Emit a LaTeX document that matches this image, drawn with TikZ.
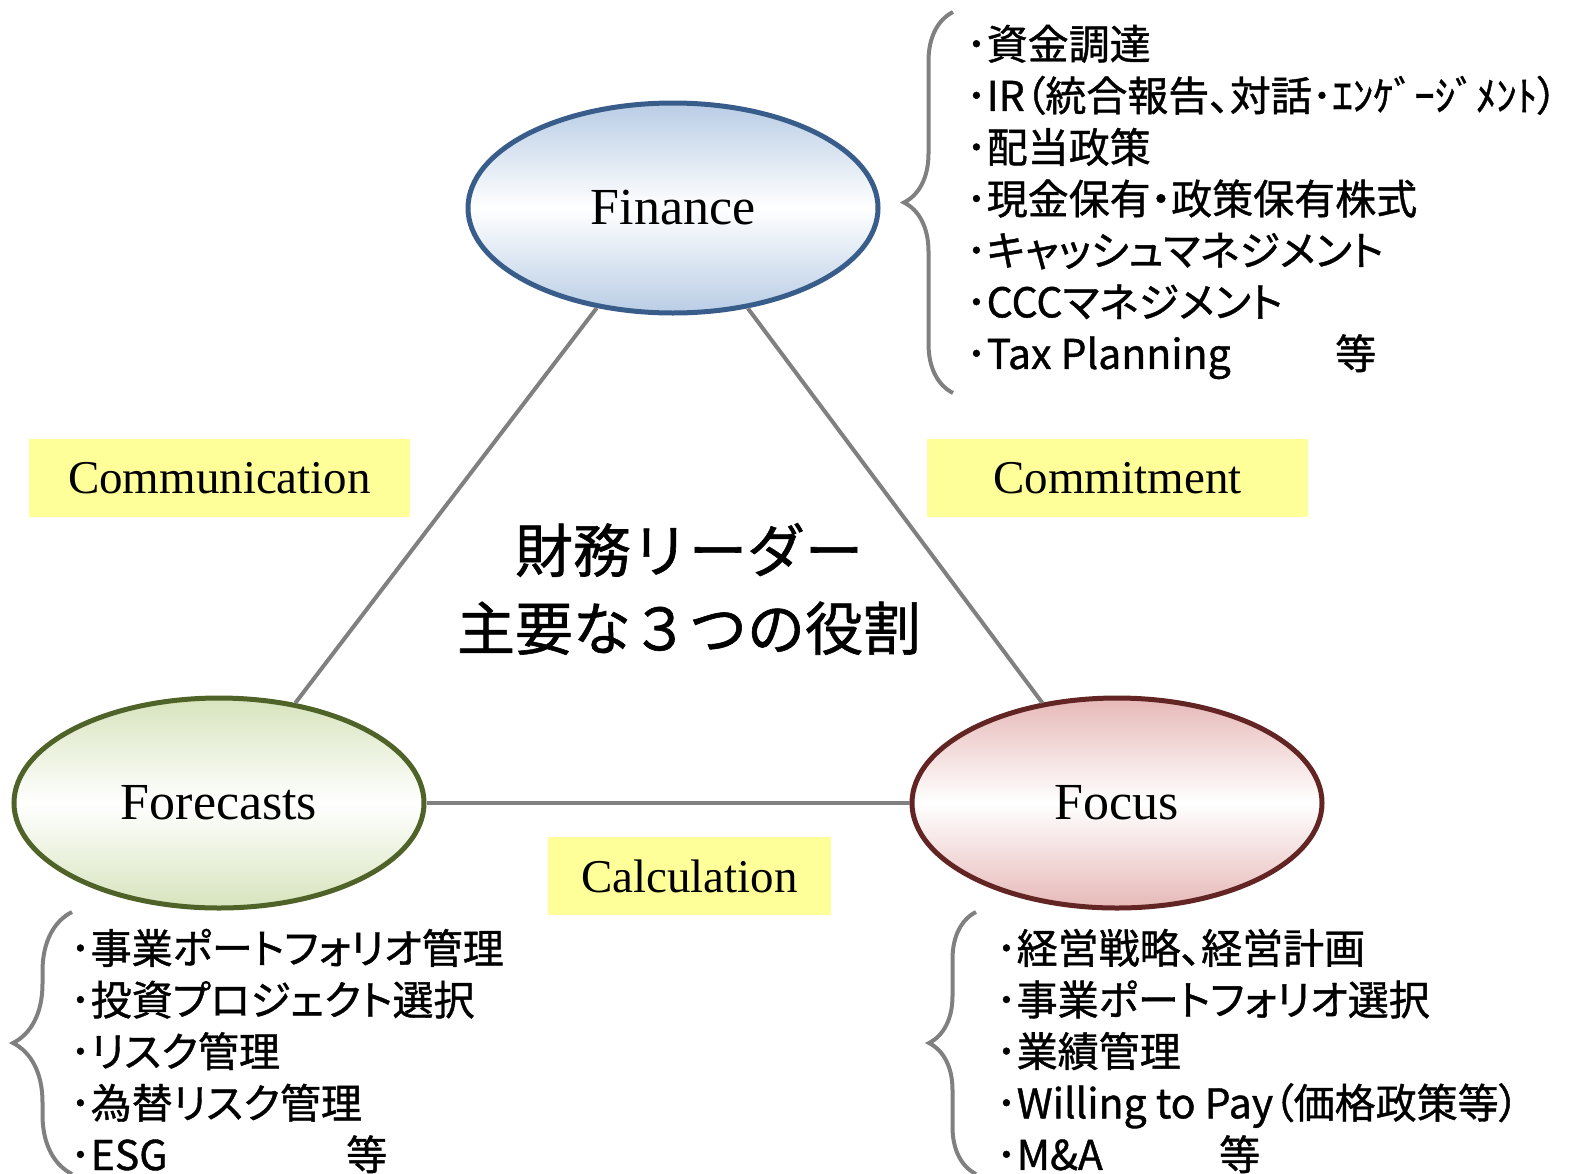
\documentclass[tikz,border=0pt]{standalone}
\usepackage{fontspec}
\setmainfont{Liberation Serif}
\newfontfamily\jpfont[RawFeature=+palt, FakeBold=1]{Noto Sans CJK JP}
\newfontfamily\titlefont[FakeBold=1]{Noto Sans CJK JP}
\usetikzlibrary{shapes.geometric}
\usetikzlibrary{positioning}
\usetikzlibrary{decorations.pathreplacing}
\definecolor{azulborda}{HTML}{385D8A}
\definecolor{azul}{HTML}{B9CDE5}
\definecolor{verdeborda}{HTML}{4F6228}
\definecolor{verde}{HTML}{D7E4BD}
\definecolor{vermelhoborda}{HTML}{632523}
\definecolor{vermelho}{HTML}{E6B9B8}
\definecolor{amarelo}{HTML}{FFFF99}
\definecolor{cinza}{HTML}{808080}

\begin{document}
\begin{tikzpicture}[x=1pt,y=-1pt]
        \tikzstyle{papel}=[ellipse, line width=5pt, minimum width=410pt, minimum height=210pt, inner sep=0pt, font=\fontsize{52}{60}\selectfont]
        \tikzstyle{rotulo}=[fill=amarelo, inner sep=0pt, minimum height=78pt, font=\fontsize{47}{56}\selectfont]
        \tikzstyle{lista}=[anchor=west, align=left, inner sep=0pt, font=\jpfont\fontsize{41}{51.6}\selectfont]
        \tikzstyle{chave}=[draw=cinza, line width=4pt, decorate]
        \useasboundingbox (0,0) rectangle (1587,1173);
        \node[papel, draw=verdeborda, top color=verde, bottom color=verde, middle color=white] (forecasts) at (219,803) {Forecasts};
        \node[papel, draw=vermelhoborda, top color=vermelho, bottom color=vermelho, middle color=white, on grid, right=898pt of forecasts] (focus) {Focus};
        \node[papel, draw=azulborda, top color=azul, bottom color=azul, middle color=white, on grid, above right=595pt and 454pt of forecasts] (finance) {Finance};
        \path [draw, line width=4pt, cinza] (finance) -- (forecasts);
        \path [draw, line width=4pt, cinza] (finance) -- (focus);
        \path [draw, line width=4pt, cinza] (forecasts) -- (focus);
        \node[rotulo, minimum width=381pt] (communication) at (219.5,478) {Communication};
        \node[rotulo, minimum width=381pt] (commitment) at (1117.5,478) {Commitment};
        \node[rotulo, minimum width=283pt] (calculation) at (689.5,876) {Calculation};
        \node[align=center, inner sep=0pt, font=\titlefont\fontsize{58}{78}\selectfont] (papeis) at (689,589) {財務リーダー\\主要な３つの役割};
        % chaves e listas
        \draw[chave, decoration={brace, amplitude=49pt}] (953,393) -- (953,12);
        \draw[chave, decoration={brace, amplitude=59pt}] (72,1174) -- (72,912);
        \draw[chave, decoration={brace, amplitude=47pt}] (976,1174) -- (976,912);
        \node[lista] (listafinance) at (966,202) {･資金調達\\･IR（統合報告、対話･ｴﾝｹﾞｰｼﾞﾒﾝﾄ）\\･配当政策\\･現金保有・政策保有株式\\･キャッシュマネジメント\\･CCCマネジメント\\\makebox[369pt][l]{･Tax Planning}等};
        \node[lista] (listaforecasts) at (70,1051) {･事業ポートフォリオ管理\\･投資プロジェクト選択\\･リスク管理\\･為替リスク管理\\\makebox[276pt][l]{･ESG}等};
        \node[lista] (listafocus) at (996,1051) {･経営戦略、経営計画\\･事業ポートフォリオ選択\\･業績管理\\･Willing to Pay（価格政策等）\\\makebox[223pt][l]{･M\&A}等};
      \end{tikzpicture}
\end{document}
